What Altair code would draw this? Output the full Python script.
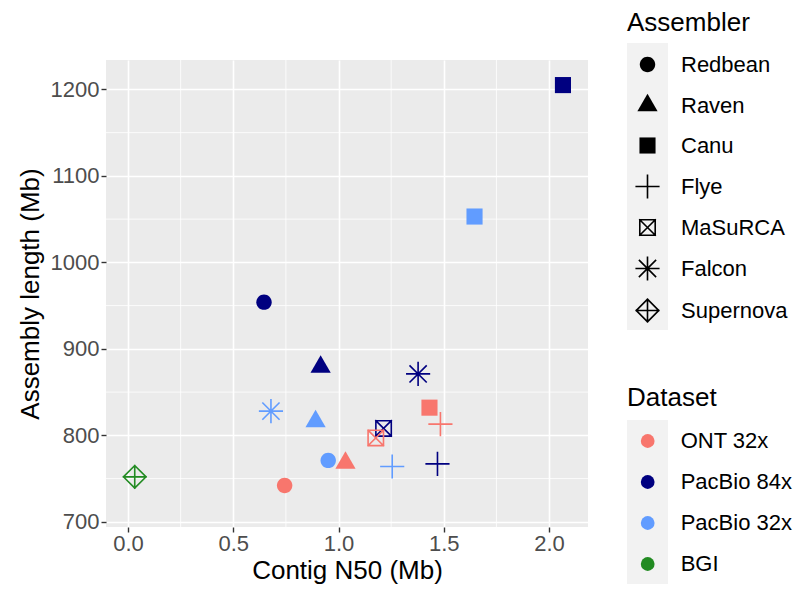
import math
import altair as alt
import pandas as pd

# ---------------- data ----------------
assemblers = ["Redbean", "Raven", "Canu", "Flye", "MaSuRCA", "Falcon", "Supernova"]
datasets = ["ONT 32x", "PacBio 84x", "PacBio 32x", "BGI"]
dataset_colors = ["#F8766D", "#000080", "#619CFF", "#228B22"]

pt_assembler = ["Canu", "Canu", "Redbean", "Raven", "Falcon", "Falcon", "Raven", "Canu",
                "Flye", "MaSuRCA", "MaSuRCA", "Redbean", "Raven", "Flye", "Flye",
                "Supernova", "Redbean"]
pt_dataset = ["PacBio 84x", "PacBio 32x", "PacBio 84x", "PacBio 84x", "PacBio 84x",
              "PacBio 32x", "PacBio 32x", "ONT 32x", "ONT 32x", "PacBio 84x", "ONT 32x",
              "PacBio 32x", "ONT 32x", "PacBio 32x", "PacBio 84x", "BGI", "ONT 32x"]
contig_n50 = [2.066, 1.646, 0.646, 0.915, 1.378, 0.679, 0.891, 1.432, 1.484, 1.214,
              1.177, 0.951, 1.033, 1.255, 1.470, 0.032, 0.744]
assembly_length = [1205, 1053, 954, 879, 871, 828, 816, 832, 813, 808, 797, 771, 768,
                   764, 767, 752, 742]

x_ticks = [0.0, 0.5, 1.0, 1.5, 2.0]
y_ticks = [700, 800, 900, 1000, 1100, 1200]
x_minor = [0.25, 0.75, 1.25, 1.75]
y_minor = [750, 850, 950, 1050, 1150]

df = pd.DataFrame({"assembler": pt_assembler, "dataset": pt_dataset,
                   "n50": contig_n50, "length": assembly_length})

# ---------------- symbol paths (unit = sqrt(size)/2 px) ----------------
SIZE = 529          # 1 unit = 11.5 px
W = 0.14            # line width in units


def seg(x1, y1, x2, y2, w=W):
    L = math.hypot(x2 - x1, y2 - y1)
    ux, uy = (x2 - x1) / L, (y2 - y1) / L
    h = w / 2
    ax, ay = x1 - ux * h, y1 - uy * h
    bx, by = x2 + ux * h, y2 + uy * h
    nx, ny = -uy * h, ux * h
    pts = [(ax + nx, ay + ny), (bx + nx, by + ny), (bx - nx, by - ny), (ax - nx, ay - ny)]
    area = sum(pts[i][0] * pts[(i + 1) % 4][1] - pts[(i + 1) % 4][0] * pts[i][1] for i in range(4))
    if area < 0:
        pts = pts[::-1]
    return "M" + "L".join(f"{px:.3f},{py:.3f}" for px, py in pts) + "Z"


def segs(lst):
    return "".join(seg(*s) for s in lst)


r = 0.67
circle = f"M{r},0A{r},{r},0,1,1,{-r},0A{r},{r},0,1,1,{r},0Z"
triangle = "M0,-1.02L0.88,0.51L-0.88,0.51Z"
square = "M-0.70,-0.70L0.70,-0.70L0.70,0.70L-0.70,0.70Z"
plus = segs([(-0.98, 0, 0.98, 0), (0, -0.98, 0, 0.98)])
q = 0.67
sq_x = segs([(-q, -q, q, -q), (q, -q, q, q), (q, q, -q, q), (-q, q, -q, -q),
             (-q, -q, q, q), (-q, q, q, -q)])
d = 0.70
asterisk = segs([(-0.98, 0, 0.98, 0), (0, -0.98, 0, 0.98), (-d, -d, d, d), (-d, d, d, -d)])
k = 0.98
diamond_plus = segs([(0, -k, k, 0), (k, 0, 0, k), (0, k, -k, 0), (-k, 0, 0, -k),
                     (-k, 0, k, 0), (0, -k, 0, k)])
shape_paths = [circle, triangle, square, plus, sq_x, asterisk, diamond_plus]

FONT = "Liberation Sans"
xscale = alt.Scale(domain=[-0.1045, 2.185], nice=False, zero=False)
yscale = alt.Scale(domain=[694, 1234], nice=False, zero=False)
xaxis = alt.Axis(values=x_ticks, format=".1f", titlePadding=3, labelPadding=1)
yaxis = alt.Axis(values=y_ticks, format="d", titlePadding=7, labelPadding=2)
XT = "Contig N50 (Mb)"
YT = "Assembly length (Mb)"

# legend key backgrounds (decoration)
one = pd.DataFrame({"a": [0]})
key_bg1 = alt.Chart(one).mark_rect(color="#F2F2F2").encode(
    x=alt.value(521), x2=alt.value(562), y=alt.value(-17), y2=alt.value(270))
key_bg2 = alt.Chart(one).mark_rect(color="#F2F2F2").encode(
    x=alt.value(521), x2=alt.value(562), y=alt.value(360), y2=alt.value(524))

minor_v = alt.Chart(pd.DataFrame({"n50": x_minor})).mark_rule(
    color="white", strokeWidth=0.8).encode(x=alt.X("n50:Q", scale=xscale, title=XT, axis=xaxis))
minor_h = alt.Chart(pd.DataFrame({"length": y_minor})).mark_rule(
    color="white", strokeWidth=0.8).encode(y=alt.Y("length:Q", scale=yscale, title=YT, axis=yaxis))

points = alt.Chart(df).mark_point(filled=True, size=SIZE, opacity=1, strokeWidth=0).encode(
    x=alt.X("n50:Q", scale=xscale, title=XT, axis=xaxis),
    y=alt.Y("length:Q", scale=yscale, title=YT, axis=yaxis),
    shape=alt.Shape("assembler:N",
                    scale=alt.Scale(domain=assemblers, range=shape_paths),
                    legend=alt.Legend(title="Assembler", orient="none", legendX=521, legendY=-50,
                                      symbolFillColor="black", symbolStrokeWidth=0,
                                      symbolSize=SIZE, rowPadding=17, titlePadding=17,
                                      symbolOffset=9, labelOffset=22)),
    color=alt.Color("dataset:N",
                    scale=alt.Scale(domain=datasets, range=dataset_colors),
                    legend=alt.Legend(title="Dataset", orient="none", legendX=521, legendY=325,
                                      symbolType="circle", symbolSize=190, symbolStrokeWidth=0,
                                      rowPadding=19, titlePadding=19,
                                      symbolOffset=9.7, labelOffset=22)),
)

chart = alt.layer(key_bg1, key_bg2, minor_v, minor_h, points).properties(
    width=482, height=467,
    autosize=alt.AutoSizeParams(type="none"),
    padding={"left": 98, "top": 52, "right": 210, "bottom": 58},
).configure_view(fill="#EBEBEB", stroke=None).configure_axis(
    domain=False, grid=True, gridColor="white", gridWidth=1.6,
    tickColor="#333333", tickWidth=1.4, tickSize=5,
    labelColor="#4D4D4D", labelFontSize=22, labelFont=FONT,
    titleFont=FONT, titleFontSize=26, titleFontWeight="normal", titleColor="black",
).configure_legend(
    titleFont=FONT, titleFontSize=26, titleFontWeight="normal", titleColor="black",
    labelFont=FONT, labelFontSize=22, labelColor="black", padding=0,
)

chart.save("out.html", embed_options={"renderer": "svg", "actions": False})
